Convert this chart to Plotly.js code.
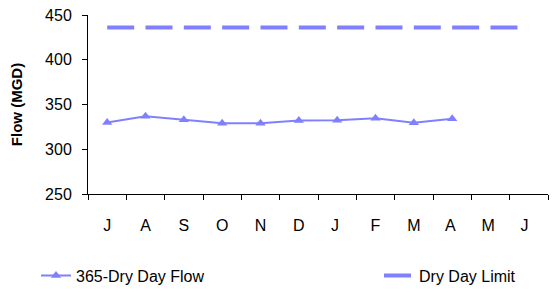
<!DOCTYPE html>
<html><head><meta charset="utf-8">
<script src="https://cdn.plot.ly/plotly-3.0.1.min.js"></script>
<style>html,body{margin:0;padding:0;background:#fff}#c{width:555px;height:292px}</style>
</head><body><div id="c"></div>
<script>
const months = ["J","A","S","O","N","D","J ","F","M","A ","M ","J  "];
const flow = [330, 337, 333, 329, 329, 332, 332.5, 334.5, 329.5, 334];
const limit = [436,436,436,436,436,436,436,436,436,436,436,436];
const flowName = "365-Dry Day Flow";
const limitName = "Dry Day Limit";
const col = "#8080ff";
const traces = [
  {x: months.slice(0, flow.length), y: flow, name: flowName, type: "scatter", mode: "lines+markers",
   line: {color: col, width: 2}, marker: {symbol: "triangle-up", size: 9, color: col}, legend: "legend"},
  {x: months, y: limit, name: limitName, type: "scatter", mode: "lines",
   line: {color: col, width: 4, dash: "27px,11.33px"}, legend: "legend2"}
];
const layout = {
  width: 555, height: 292,
  margin: {l: 88, r: 7, t: 15, b: 98},
  paper_bgcolor: "#fff", plot_bgcolor: "#fff",
  font: {family: "Liberation Sans, Arial, sans-serif", size: 16, color: "#000"},
  showlegend: true,
  xaxis: {type: "category", range: [-0.5, 11.5], categoryorder: "array", categoryarray: months,
    showgrid: false, zeroline: false, showline: true, linecolor: "#000", linewidth: 1,
    ticks: "outside", tickson: "boundaries", ticklen: 5, tickcolor: "#000",
    tickfont: {size: 16}, ticklabelstandoff: 17},
  yaxis: {range: [250, 450], dtick: 50, showgrid: false, zeroline: false,
    showline: true, linecolor: "#000", linewidth: 1, ticks: "outside", ticklen: 5, tickcolor: "#000",
    tickfont: {size: 16}, ticklabelstandoff: 7,
    title: {text: "<b>Flow (MGD)</b>", font: {size: 15}, standoff: 18}},
  legend: {orientation: "h", xref: "container", x: 36/555, xanchor: "left",
    yref: "container", y: (292-275.5)/292, yanchor: "middle",
    font: {size: 16}, itemwidth: 30, tracegroupgap: 0},
  legend2: {orientation: "h", xref: "container", x: 379/555, xanchor: "left",
    yref: "container", y: (292-275.5)/292, yanchor: "middle",
    font: {size: 16}, itemwidth: 30}
};
Plotly.newPlot("c", traces, layout, {staticPlot: true});
</script></body></html>
